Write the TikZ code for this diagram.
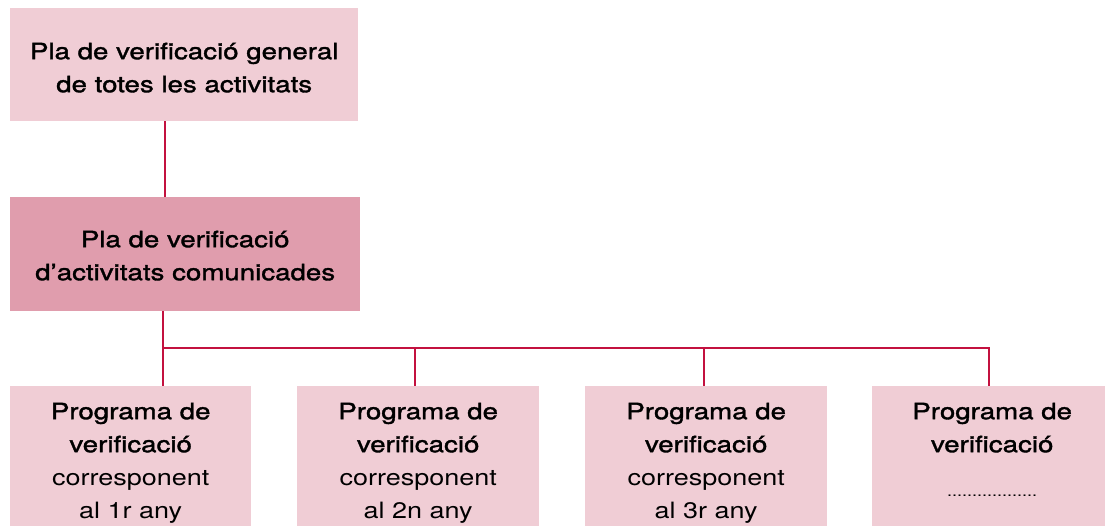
\documentclass[tikz,border=0pt]{standalone}
\usepackage{fontspec}
\setmainfont[FakeStretch=1.2]{TeX Gyre Heros}
\newfontfamily\medfont[FakeStretch=1.23,FakeBold=1.5]{TeX Gyre Heros}
\definecolor{lightpink}{HTML}{F0CDD5}
\definecolor{midpink}{HTML}{E09DAD}
\definecolor{crim}{HTML}{C3113F}
\newcommand{\lines}[1]{\begin{tabular}[t]{@{}c@{}}#1\end{tabular}}
\tikzset{
  box/.style={rectangle, inner xsep=0pt, inner ysep=0pt, anchor=north west,
    font=\fontsize{22.5}{33}\selectfont},
  toplevel/.style={box, fill=lightpink},
  midlevel/.style={box, fill=midpink},
  prog/.style={box, fill=lightpink, text height=33pt, text depth=150pt},
  connthick/.style={draw=crim, line width=2pt},
  conn/.style={draw=crim, line width=1.3pt, line join=miter},
}
\begin{document}
\begin{tikzpicture}[x=1pt,y=1pt]
\useasboundingbox (0,0) rectangle (1105,526);
\node[toplevel, minimum width=348pt, text height=51pt, text depth=62pt] (top) at (10,518)
  {\lines{\medfont Pla de verificació general\\\medfont de totes les activitats}};
\node[midlevel, minimum width=350pt, text height=50pt, text depth=64pt] (mid) at (10,329)
  {\lines{\medfont Pla de verificació\\\medfont d’activitats comunicades}};
\node[prog, minimum width=241pt] (b1) at (10,140)
  {\lines{\medfont Programa de\\\medfont verificació\\corresponent\\al 1r any}};
\node[prog, minimum width=242pt] (b2) at (297,140)
  {\lines{\medfont Programa de\\\medfont verificació\\corresponent\\al 2n any}};
\node[prog, minimum width=242pt] (b3) at (585,140)
  {\lines{\medfont Programa de\\\medfont verificació\\corresponent\\al 3r any}};
\node[prog, minimum width=240pt] (b4) at (872,140)
  {\lines{\medfont Programa de\\\medfont verificació\\[11pt]{\fontsize{15}{18}\selectfont ..................}}};
\coordinate (c0) at (165,0);
\coordinate (k1) at (163,178);
\coordinate (k2) at (415,178);
\coordinate (k3) at (704,178);
\coordinate (k4) at (989,178);
\draw[connthick] (top.south -| c0) -- (mid.north -| c0);
\draw[conn] (mid.south -| k1) -- (b1.north -| k1);
\draw[conn] (k1) -- (k4) -- (b4.north -| k4);
\draw[conn] (k2) -- (b2.north -| k2);
\draw[conn] (k3) -- (b3.north -| k3);
\end{tikzpicture}
\end{document}
